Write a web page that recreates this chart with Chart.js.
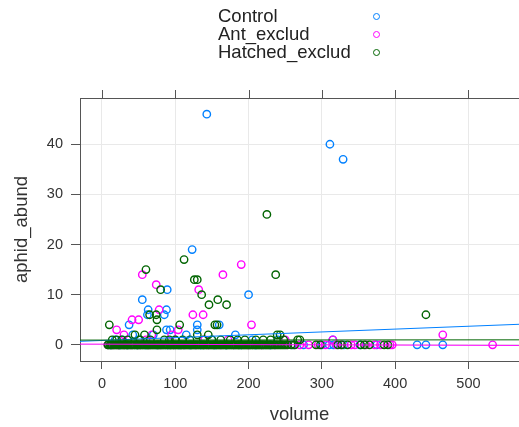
<!DOCTYPE html>
<html>
<head>
<meta charset="utf-8">
<script src="https://cdn.jsdelivr.net/npm/chart.js@4/dist/chart.umd.min.js"></script>
<style>
  body { margin: 0; background: #fff; }
  #wrap { position: relative; width: 519px; height: 427px; overflow: hidden; }
  #key { position: absolute; left: 218px; top: 7px; font-family: "Liberation Sans", Arial, sans-serif; font-size: 18.5px; color: #222; }
  #key .row { height: 18px; line-height: 18px; display: flex; align-items: center; }
  #key .lab { width: 155px; }
  #key .sym { width: 5px; height: 5px; border-radius: 50%; border: 1.3px solid; }
</style>
</head>
<body>
<div id="wrap">
  <canvas id="plot" width="519" height="427"></canvas>
  <div id="key"></div>
</div>
<script>
// groups, in legend order
var groupNames = ["Control", "Ant_exclud", "Hatched_exclud"];
var groupColors = ["#0080ff", "#ff00ff", "#006400"];

// [volume, aphid_abund]
var control = [
  [143, 46], [311, 40], [329, 37], [123, 19], [200, 10], [89, 11], [55, 9],
  [63, 7], [88, 7], [62, 6], [85, 6], [37, 4], [160, 4], [130, 4], [88, 3],
  [93, 3], [130, 3], [182, 2], [42, 2], [70, 2], [100, 1], [150, 1], [240, 1],
  [315, 1], [50, 1], [18, 1], [28, 1], [115, 2], [205, 1],
  [12, 0], [25, 0], [35, 0], [48, 0], [60, 0], [75, 0], [90, 0], [105, 0],
  [120, 0], [135, 0], [155, 0], [170, 0], [190, 0], [210, 0], [230, 0],
  [260, 0], [275, 0], [300, 0], [310, 0], [316, 0], [330, 0], [352, 0],
  [375, 0], [430, 0], [442, 0], [465, 0]
];

var antExclud = [
  [190, 16], [55, 14], [165, 14], [74, 12], [132, 11], [124, 6], [138, 6],
  [78, 7], [41, 5], [50, 5], [20, 3], [204, 4], [465, 2], [104, 3], [30, 2],
  [95, 2], [60, 1], [140, 1], [315, 1], [250, 1], [68, 2], [172, 1],
  [533, 0], [8, 0], [15, 0], [22, 0], [30, 0], [40, 0], [52, 0], [65, 0],
  [80, 0], [98, 0], [112, 0], [128, 0], [145, 0], [162, 0], [180, 0], [200, 0],
  [218, 0], [236, 0], [252, 0], [262, 0], [270, 0], [282, 0], [295, 0],
  [305, 0], [320, 0], [326, 0], [340, 0], [345, 0], [360, 0], [372, 0],
  [380, 0], [393, 0], [396, 0]
];

var hatchedExclud = [
  [225, 26], [112, 17], [60, 15], [237, 14], [126, 13], [130, 13], [80, 11],
  [136, 10], [158, 9], [146, 8], [170, 8], [65, 6], [74, 6], [442, 6], [75, 5],
  [10, 4], [106, 4], [154, 4], [157, 4], [75, 3], [130, 2], [145, 2], [239, 2],
  [243, 2], [267, 1], [20, 1], [45, 2], [58, 2], [100, 1], [120, 1], [175, 1],
  [210, 1], [35, 1], [85, 1], [150, 1], [195, 1], [230, 1], [270, 1],
  [14, 1], [27, 1], [52, 1], [66, 1], [92, 1], [110, 1], [138, 1], [162, 1],
  [185, 1], [220, 1], [248, 1],
  [8, 0], [9, 0], [11, 0], [12, 0], [13, 0], [14, 0], [16, 0], [17, 0],
  [19, 0], [20, 0], [22, 0], [23, 0], [24, 0], [25, 0], [27, 0], [28, 0],
  [30, 0], [31, 0], [33, 0], [34, 0], [35, 0], [36, 0], [38, 0], [39, 0],
  [41, 0], [42, 0], [44, 0], [45, 0], [47, 0], [48, 0], [49, 0], [50, 0],
  [52, 0], [53, 0], [55, 0], [56, 0], [58, 0], [59, 0], [61, 0], [62, 0],
  [63, 0], [64, 0], [66, 0], [67, 0], [69, 0], [70, 0], [72, 0], [73, 0],
  [75, 0], [76, 0], [77, 0], [78, 0], [80, 0], [81, 0], [83, 0], [84, 0],
  [86, 0], [87, 0], [89, 0], [90, 0], [92, 0], [93, 0], [94, 0], [95, 0],
  [97, 0], [98, 0], [100, 0], [101, 0], [103, 0], [104, 0], [106, 0], [107, 0],
  [108, 0], [109, 0], [111, 0], [112, 0], [114, 0], [115, 0], [117, 0], [118, 0],
  [120, 0], [121, 0], [122, 0], [123, 0], [125, 0], [126, 0], [128, 0], [129, 0],
  [131, 0], [132, 0], [134, 0], [135, 0], [137, 0], [138, 0], [139, 0], [140, 0],
  [142, 0], [143, 0], [145, 0], [146, 0], [148, 0], [149, 0], [151, 0], [152, 0],
  [153, 0], [154, 0], [156, 0], [157, 0], [159, 0], [160, 0], [162, 0], [163, 0],
  [165, 0], [166, 0], [168, 0], [169, 0], [170, 0], [171, 0], [173, 0], [174, 0],
  [176, 0], [177, 0], [179, 0], [180, 0], [182, 0], [183, 0], [185, 0], [186, 0],
  [187, 0], [188, 0], [190, 0], [191, 0], [193, 0], [194, 0], [196, 0], [197, 0],
  [199, 0], [200, 0], [202, 0], [203, 0], [205, 0], [206, 0], [208, 0], [209, 0],
  [211, 0], [212, 0], [214, 0], [215, 0], [217, 0], [218, 0], [220, 0], [221, 0],
  [223, 0], [224, 0], [226, 0], [227, 0], [229, 0], [230, 0], [232, 0], [234, 0],
  [236, 0], [238, 0], [240, 0], [242, 0], [244, 0], [246, 0], [248, 0], [250, 0],
  [253, 0], [258, 0], [263, 0], [292, 0], [298, 0], [322, 0], [327, 0],
  [335, 0], [353, 0], [358, 0], [365, 0], [385, 0], [390, 0]
];

// least-squares lines, evaluated at the panel edges
var fitX = [-30, 569];
var controlFit = [0.7, 4.1];
var antFit = [0.15, -0.12];
var hatchedFit = [0.95, 1.0];

var xTicks = [0, 100, 200, 300, 400, 500];
var yTicks = [0, 10, 20, 30, 40];

var FRAME = "#555555";
var GRID = "#e9e9e9";
var TEXT = "#333333";
var FONT = "Liberation Sans, Arial, sans-serif";

function toPoints(list) {
  return list.map(function (p) { return { x: p[0], y: p[1] }; });
}
function fitLine(ys) {
  return fitX.map(function (x, i) { return { x: x, y: ys[i] }; });
}

// html key above the panel
var key = document.getElementById("key");
groupNames.forEach(function (name, i) {
  var row = document.createElement("div");
  row.className = "row";
  var lab = document.createElement("span");
  lab.className = "lab";
  lab.textContent = name;
  var sym = document.createElement("span");
  sym.className = "sym";
  sym.style.borderColor = groupColors[i];
  row.appendChild(lab);
  row.appendChild(sym);
  key.appendChild(row);
});

// top frame edge with its tick marks
var topFrame = {
  id: "topFrame",
  afterDraw: function (chart) {
    var ctx = chart.ctx, area = chart.chartArea, xs = chart.scales.x;
    ctx.save();
    ctx.strokeStyle = FRAME;
    ctx.lineWidth = 1;
    ctx.beginPath();
    ctx.moveTo(area.left, area.top + 0.5);
    ctx.lineTo(area.right, area.top + 0.5);
    xTicks.forEach(function (v) {
      var px = Math.round(xs.getPixelForValue(v)) + 0.5;
      ctx.moveTo(px, area.top - 8);
      ctx.lineTo(px, area.top);
    });
    ctx.stroke();
    ctx.restore();
  }
};

function pointSet(list, i) {
  return {
    type: "scatter",
    data: toPoints(list),
    borderColor: groupColors[i],
    backgroundColor: "rgba(0,0,0,0)",
    pointRadius: 3.7,
    pointBorderWidth: 1.4,
    pointHoverRadius: 3.7
  };
}
function lineSet(ys, i) {
  return {
    type: "line",
    data: fitLine(ys),
    borderColor: groupColors[i],
    borderWidth: 1,
    pointRadius: 0,
    fill: false
  };
}

new Chart(document.getElementById("plot"), {
  data: {
    datasets: [
      lineSet(hatchedFit, 2),
      lineSet(antFit, 1),
      lineSet(controlFit, 0),
      pointSet(hatchedExclud, 2),
      pointSet(antExclud, 1),
      pointSet(control, 0)
    ]
  },
  options: {
    responsive: false,
    animation: false,
    devicePixelRatio: 1,
    layout: { autoPadding: false, padding: { top: 98, right: 0, left: 0, bottom: 0 } },
    plugins: { legend: { display: false }, tooltip: { enabled: false } },
    scales: {
      x: {
        type: "linear",
        min: -30,
        max: 569,
        afterBuildTicks: function (s) { s.ticks = xTicks.map(function (v) { return { value: v }; }); },
        afterFit: function (s) { s.height = 66; s.paddingLeft = 0; s.paddingRight = 0; },
        grid: { color: GRID, tickColor: FRAME, tickLength: 8, drawTicks: true },
        border: { display: true, color: FRAME, width: 1 },
        ticks: { color: TEXT, padding: 6, font: { family: FONT, size: 14.5 } },
        title: {
          display: true, text: "volume", color: TEXT,
          padding: { top: 0, bottom: 1 },
          font: { family: FONT, size: 18.5 }
        }
      },
      y: {
        type: "linear",
        min: -3.22,
        max: 49.22,
        afterBuildTicks: function (s) { s.ticks = yTicks.map(function (v) { return { value: v }; }); },
        afterFit: function (s) { s.width = 80; s.paddingTop = 0; s.paddingBottom = 0; },
        grid: { color: GRID, tickColor: FRAME, tickLength: 9, drawTicks: true },
        border: { display: true, color: FRAME, width: 1 },
        ticks: { color: TEXT, padding: 8, font: { family: FONT, size: 14.5 } },
        title: {
          display: true, text: "aphid_abund", color: TEXT,
          padding: { top: 11, bottom: 0 },
          font: { family: FONT, size: 18.5 }
        }
      }
    }
  },
  plugins: [topFrame]
});
</script>
</body>
</html>
